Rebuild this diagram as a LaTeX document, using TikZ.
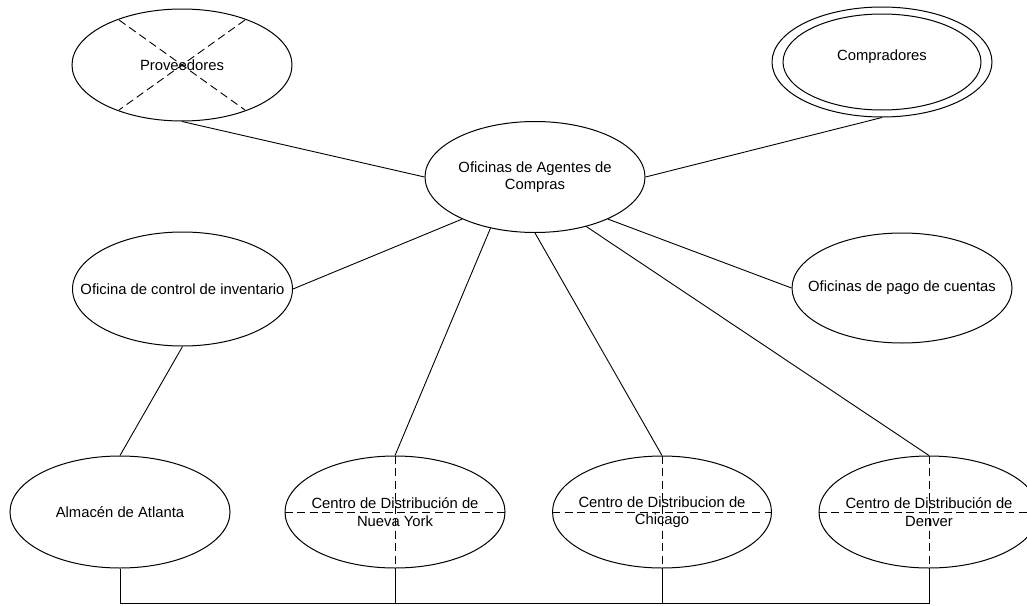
\documentclass[tikz,border=0pt]{standalone}
\usepackage{fontspec}
\setmainfont{Liberation Sans}
\usetikzlibrary{shapes.geometric,calc}
\tikzset{
  ell/.style={draw, ellipse, line width=1pt, inner sep=0pt, minimum width=220pt, minimum height=112pt},
  txt/.style={align=center, inner sep=0pt, font=\fontsize{14.8}{17.5}\selectfont},
  conn/.style={line width=0.9pt},
  dsh/.style={line width=0.9pt, dash pattern=on 8pt off 4.5pt},
}
\begin{document}
\begin{tikzpicture}[x=1pt,y=-1pt]
\clip (0,0) rectangle (1027,605);
\fill[white] (0,0) rectangle (1027,605);
% ellipses
\node[ell] (P) at (182,65) {};
\node[ell, minimum height=110pt] (C) at (882,62) {};
\node[ell, minimum width=198pt, minimum height=96pt] (Ci) at (882,62) {};
\node[ell, minimum height=111pt] (O) at (535,177) {};
\node[ell, minimum height=114pt] (I) at (182.5,289) {};
\node[ell, minimum height=110pt] (Pg) at (902,288) {};
\node[ell] (A) at (120,512) {};
\node[ell] (N) at (395,512) {};
\node[ell, minimum width=219pt] (Ch) at (662,512) {};
\node[ell] (D) at (929,512) {};
% decorations
\draw[dsh] ($(P.center)+(-63,-45)$) -- ($(P.center)+(63,45)$);
\draw[dsh] ($(P.center)+(63,-45)$) -- ($(P.center)+(-63,45)$);
\foreach \n in {N,Ch,D}{
  \draw[dsh] (\n.north) -- (\n.south);
  \draw[dsh] (\n.west) -- (\n.east);
}
% texts
\node[txt] (Pt) at (P.center) {Proveedores};
\node[txt] (Ct) at ($(C.center)+(0,-5)$) {Compradores};
\node[txt] (Ot) at (O.center) {Oficinas de Agentes de\\Compras};
\node[txt] (It) at (I.center) {Oficina de control de inventario};
\node[txt] (Pgt) at (Pg.center) {Oficinas de pago de cuentas};
\node[txt] (At) at (A.center) {Almacén de Atlanta};
\node[txt] (Nt) at (N.center) {Centro de Distribución de\\Nueva York};
\node[txt] (Cht) at (Ch.center) {Centro de Distribucion de\\Chicago};
\node[txt] (Dt) at (D.center) {Centro de Distribución de\\Denver};
% connectors
\draw[conn] (P.south) -- (O.west);
\draw[conn] (C.south) -- (O.east);
\draw[conn] (I.east) -- (O.210);
\draw[conn] (I.south) -- (A.north);
\draw[conn] (O.330) -- (Pg.west);
\draw[conn] (O.229) -- (N.north);
\draw[conn] (O.south) -- (Ch.north);
\draw[conn] (O.316) -- (D.north);
% bus
\draw[conn] (A.south) -- ++(0,35) coordinate (bA) -| (D.south);
\draw[conn] (N.south) -- (N.south |- bA);
\draw[conn] (Ch.south) -- (Ch.south |- bA);
\end{tikzpicture}
\end{document}
